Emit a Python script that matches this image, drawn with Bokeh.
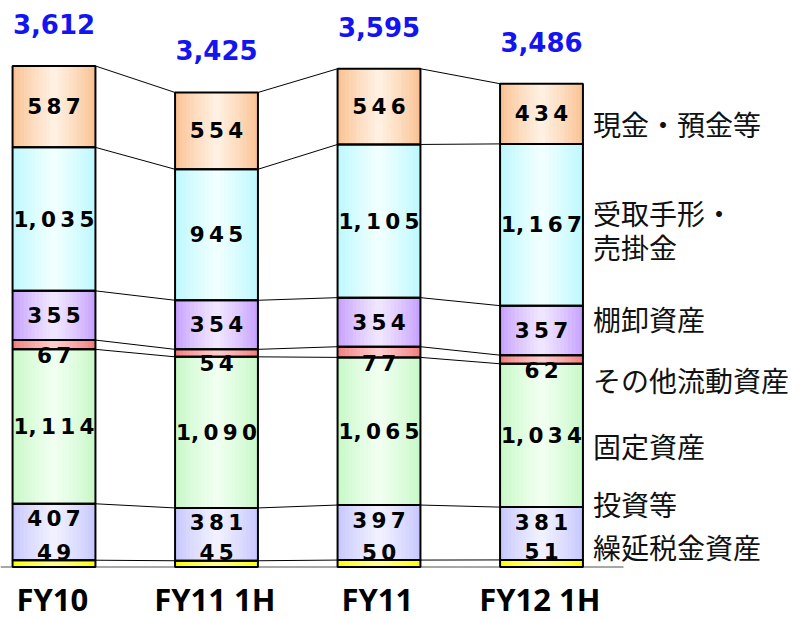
import numpy as np
from bokeh.plotting import figure
from bokeh.models import Range1d
from bokeh.embed import file_html
from bokeh.resources import INLINE
from bokeh.core.properties import value

# ---------------- data ----------------
categories = ["FY10", "FY11 1H", "FY11", "FY12 1H"]
totals = [3612, 3425, 3595, 3486]
# stacked from bottom to top
deferred_tax = [49, 45, 50, 51]
investments = [407, 381, 397, 381]
fixed_assets = [1114, 1090, 1065, 1034]
other_current = [67, 54, 77, 62]
inventories = [355, 354, 354, 357]
receivables = [1035, 945, 1105, 1167]
cash = [587, 554, 546, 434]

series_labels = [["繰延税金資産"], ["投資等"], ["固定資産"], ["その他流動資産"],
                 ["棚卸資産"], ["受取手形・", "売掛金"], ["現金・預金等"]]

# ---------------- styles / layout ----------------
W, H = 800, 619
px_x = 162.5                 # pixels per category step
x0_px = 53.5                 # x of first category
px_y = 0.13863               # pixels per value unit
base_px = 566.5              # y of value 0
bar_w = 0.51

edge_cols = [(255, 255, 0), (196, 196, 255), (196, 248, 196), (240, 120, 120),
             (196, 156, 255), (184, 248, 255), (250, 190, 140)]
center_cols = [(255, 255, 150), (242, 242, 255), (242, 255, 242), (255, 205, 205),
               (242, 232, 255), (242, 255, 255), (255, 242, 228)]

label_y_px = [[546], [503], [445], [379], [318], [212, 246], [123]]

x_start = -x0_px / px_x
x_end = x_start + W / px_x
y_end = base_px / px_y
y_start = -(H - base_px) / px_y

def dy(px):
    return px / px_y

def ypage(page_y):
    return (base_px - page_y) / px_y

series = [deferred_tax, investments, fixed_assets, other_current,
          inventories, receivables, cash]
vals = np.array(series, dtype=float)          # (7, 4)
tops = np.cumsum(vals, axis=0)
bots = tops - vals
xs = np.arange(len(categories), dtype=float)

p = figure(width=W, height=H, output_backend="svg", toolbar_location=None,
           x_range=Range1d(x_start, x_end), y_range=Range1d(y_start, y_end),
           min_border=0, min_border_left=0, min_border_right=0,
           min_border_top=0, min_border_bottom=0)
p.axis.visible = False
p.grid.visible = False
p.outline_line_color = None
p.background_fill_color = "white"
p.border_fill_color = "white"

# baseline
p.segment(x0=[x_start], y0=[0], x1=[x_start + 623 / px_x], y1=[0],
          line_color="#8a8a8a", line_width=1.5)

# gradient fills
N = 22
L, R, B, T, C = [], [], [], [], []
for s in range(len(series)):
    e = np.array(edge_cols[s], dtype=float)
    c = np.array(center_cols[s], dtype=float)
    for i in range(len(categories)):
        left = xs[i] - bar_w / 2
        sw = bar_w / N
        for j in range(N):
            u = (j + 0.5) / N
            t = 1 - abs(2 * u - 1)
            t = t ** 0.8
            col = e + (c - e) * t
            L.append(left + j * sw)
            R.append(left + (j + 1) * sw + (sw * 0.15 if j < N - 1 else 0))
            B.append(bots[s, i])
            T.append(tops[s, i])
            C.append("#%02x%02x%02x" % tuple(int(round(v)) for v in col))
p.quad(left=L, right=R, bottom=B, top=T, fill_color=C, line_color=None)

# outlines
ol_l, ol_r, ol_b, ol_t = [], [], [], []
for s in range(len(series)):
    for i in range(len(categories)):
        ol_l.append(xs[i] - bar_w / 2)
        ol_r.append(xs[i] + bar_w / 2)
        ol_b.append(bots[s, i])
        ol_t.append(tops[s, i])
p.quad(left=ol_l, right=ol_r, bottom=ol_b, top=ol_t, fill_color=None,
       line_color="black", line_width=2)

# connector lines
cx0, cx1, cy0, cy1 = [], [], [], []
for s in range(len(series)):
    for i in range(len(categories) - 1):
        cx0.append(xs[i] + bar_w / 2)
        cx1.append(xs[i + 1] - bar_w / 2)
        cy0.append(tops[s, i])
        cy1.append(tops[s, i + 1])
p.segment(x0=cx0, y0=cy0, x1=cx1, y1=cy1, line_color="black", line_width=1)

# value labels
def fmt(v):
    s = f"{int(v):,}"
    out = ""
    for k, ch in enumerate(s):
        if k > 0 and ch != ",":
            out += "\u2009"
        out += ch
    return out

tx, ty, tt = [], [], []
for s in range(len(series)):
    for i in range(len(categories)):
        if s == 0:
            y = tops[s, i] + dy(8)
        elif s == 1:
            y = tops[s, i] - dy(15)
        elif s == 3:
            y = bots[s, i] - dy(6.5)
        else:
            y = (bots[s, i] + tops[s, i]) / 2
        tx.append(xs[i])
        ty.append(y)
        tt.append(fmt(vals[s, i]))
p.text(x=tx, y=ty, text=tt, text_align="center", text_baseline="middle",
       text_font=value("DejaVu Sans"), text_font_style="bold",
       text_font_size="21.5px", text_color="black")

# totals
p.text(x=xs, y=tops[-1] + dy(42), text=[f"{t:,}" for t in totals],
       text_align="center", text_baseline="middle",
       text_font=value("DejaVu Sans"), text_font_style="bold",
       text_font_size="26px", text_color="#1414f0")

# category labels
p.text(x=xs - 0.01, y=[ypage(598)] * len(categories), text=categories,
       text_align="center", text_baseline="middle",
       text_font=value("Open Sans"), text_font_style="bold",
       text_font_size="31px", text_color="black")

# series labels on the right
rx, ry, rt = [], [], []
for s in range(len(series)):
    for line, py in zip(series_labels[s], label_y_px[s]):
        rx.append(xs[-1] + bar_w / 2 + 10 / px_x)
        ry.append(ypage(py))
        rt.append(line)
p.text(x=rx, y=ry, text=rt, text_align="left", text_baseline="middle",
       text_font=value("Noto Sans CJK JP"), text_font_size="28px",
       text_color="#111111")

open("out.html", "w").write(file_html(p, INLINE))
